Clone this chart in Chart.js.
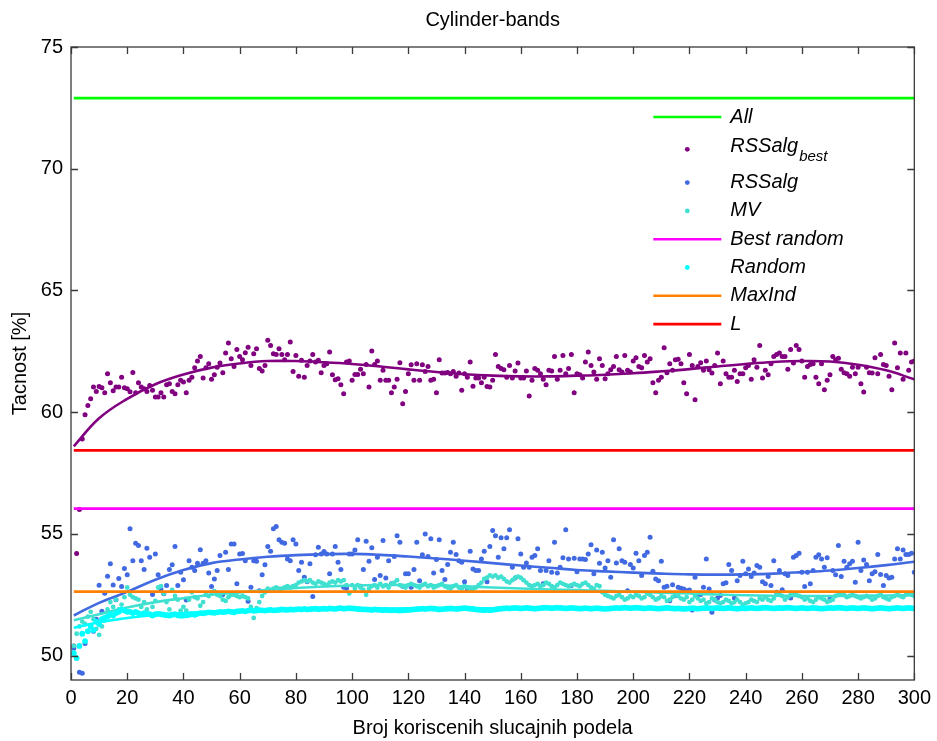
<!DOCTYPE html>
<html>
<head>
<meta charset="utf-8">
<title>Cylinder-bands</title>
<script src="https://cdn.jsdelivr.net/npm/chart.js@4.4.1/dist/chart.umd.min.js"></script>
<style>
  html, body { margin: 0; padding: 0; background: #fff; }
</style>
</head>
<body>
<canvas id="accuracyChart" width="937" height="741"></canvas>
<script>
// Tacnost po broju koriscenih slucajnih podela (1..300)
const rssBest = [
  50.4, 54.2, 56.0, 58.9, 59.9, 60.28, 60.55, 61.03, 60.85, 61.06,
  61.0, 60.8, 61.58, 61.21, 60.88, 61.03, 61.03, 61.44, 61.0, 60.96,
  60.84, 61.63, 60.8, 61.21, 61.03, 60.96, 60.85, 61.1, 60.9, 60.62,
  60.62, 60.8, 60.62, 61.13, 61.17, 60.85, 60.76, 61.13, 61.31, 61.24,
  60.8, 61.31, 61.44, 61.83, 62.1, 62.29, 61.4, 61.83, 61.99, 61.35,
  61.54, 61.85, 62.02, 61.62, 62.43, 62.84, 62.2, 61.88, 62.57, 62.29,
  62.15, 62.44, 62.67, 61.92, 62.4, 62.61, 61.79, 61.69, 61.92, 62.95,
  62.74, 62.4, 62.37, 62.61, 62.37, 62.15, 62.37, 62.88, 61.67, 62.33,
  61.48, 62.13, 61.44, 61.92, 62.1, 62.37, 62.06, 62.13, 61.62, 61.92,
  61.99, 62.47, 61.54, 61.33, 61.37, 61.13, 60.76, 62.06, 62.1, 61.31,
  61.55, 61.55, 61.76, 61.58, 61.96, 61.03, 62.51, 61.96, 62.1, 61.31,
  61.72, 61.31, 61.31, 60.8, 61.03, 61.35, 62.03, 60.35, 60.85, 61.58,
  61.95, 61.31, 61.99, 61.31, 61.95, 61.67, 61.88, 61.31, 61.35, 60.8,
  62.15, 61.61, 61.61, 61.63, 61.58, 61.67, 61.48, 61.61, 60.9, 61.58,
  61.44, 62.06, 61.07, 61.4, 61.4, 61.21, 61.44, 61.06, 61.03, 61.31,
  62.37, 61.88, 61.79, 61.74, 61.44, 61.92, 61.4, 61.69, 62.02, 61.4,
  61.4, 61.69, 60.66, 61.31, 61.79, 61.72, 61.58, 61.35, 61.13, 61.72,
  61.69, 62.29, 61.35, 61.72, 62.33, 61.58, 61.79, 62.37, 60.8, 61.58,
  61.54, 61.4, 62.06, 62.47, 61.92, 61.65, 61.35, 62.2, 61.92, 61.37,
  61.58, 61.74, 61.88, 62.29, 61.74, 61.65, 62.33, 61.72, 61.65, 62.1,
  62.24, 61.88, 61.83, 62.33, 62.06, 62.2, 61.21, 60.8, 61.31, 61.44,
  62.65, 61.62, 61.99, 61.72, 62.15, 62.17, 61.99, 61.21, 60.76, 62.37,
  61.92, 60.51, 61.88, 62.03, 61.72, 62.1, 61.74, 61.61, 61.92, 62.43,
  61.17, 62.1, 61.58, 61.44, 61.44, 61.72, 61.26, 61.58, 61.58, 61.83,
  61.92, 61.35, 62.15, 61.85, 62.74, 61.4, 61.72, 61.54, 61.99, 62.29,
  62.37, 62.43, 62.29, 62.29, 61.76, 62.57, 62.02, 62.74, 62.57, 62.1,
  61.44, 61.88, 61.96, 61.99, 61.44, 61.17, 61.99, 60.92, 61.31, 61.54,
  62.29, 62.15, 62.22, 61.76, 61.62, 61.58, 61.48, 61.85, 61.58, 61.85,
  61.17, 60.83, 61.85, 61.62, 61.61, 62.24, 61.58, 62.37, 61.96, 61.92,
  61.48, 60.92, 62.84, 61.83, 62.43, 61.35, 62.43, 61.72, 62.06, 62.1
];
const rssAlg = [
  50.3, 49.9, 49.32, 49.28, 50.5, 51.0, 51.25, 51.0, 51.5, 52.89,
  51.82, 52.56, 53.26, 53.77, 52.9, 52.3, 53.17, 52.84, 53.58, 53.32,
  55.21, 53.9, 54.62, 54.52, 53.9, 53.54, 54.41, 54.04, 52.51, 54.18,
  53.32, 52.74, 52.54, 52.88, 53.54, 53.73, 54.48, 52.88, 53.43, 53.12,
  52.29, 53.9, 53.63, 53.5, 53.8, 54.35, 53.8, 53.9, 53.4, 52.84,
  53.15, 53.5, 54.11, 52.51, 54.25, 53.54, 54.59, 54.59, 52.95, 54.18,
  54.2, 53.9, 52.23, 52.81, 53.9, 53.88, 52.67, 53.32, 53.73, 54.48,
  54.29, 55.21, 55.3, 54.76, 54.66, 54.62, 53.97, 53.9, 54.76, 54.59,
  53.5, 53.84, 53.22, 53.04, 53.77, 52.43, 54.14, 54.45, 54.18, 54.28,
  54.18, 53.36, 54.18, 54.48, 53.84, 53.54, 52.81, 52.77, 54.18, 54.18,
  54.34, 54.76, 52.85, 53.54, 54.7, 53.88, 54.43, 53.13, 54.04, 53.29,
  54.73, 53.19, 53.9, 52.95, 54.07, 54.93, 54.66, 52.85, 53.36, 53.36,
  52.81, 53.54, 54.66, 53.08, 54.14, 55.0, 54.07, 54.8, 53.4, 53.95,
  54.76, 53.5, 53.13, 53.74, 54.25, 54.66, 54.15, 53.9, 53.84, 53.04,
  52.74, 54.29, 53.56, 53.5, 53.5, 53.97, 54.29, 53.04, 54.48, 55.14,
  54.93, 54.04, 54.84, 54.39, 54.84, 55.17, 53.63, 53.19, 54.8, 54.18,
  53.63, 53.81, 53.63, 54.04, 54.11, 54.39, 53.5, 52.95, 53.5, 53.9,
  53.43, 54.66, 53.4, 53.63, 54.02, 55.17, 53.97, 52.88, 54.0, 53.45,
  53.97, 53.97, 53.95, 54.18, 54.56, 53.36, 54.34, 53.8, 54.25, 53.6,
  53.9, 53.22, 54.76, 53.81, 54.39, 53.9, 53.84, 52.67, 53.74, 53.6,
  54.21, 53.9, 53.29, 54.11, 54.25, 54.86, 53.47, 53.15, 53.08, 53.88,
  52.81, 52.85, 52.26, 52.91, 52.47, 52.81, 52.77, 52.74, 52.67, 52.7,
  51.88, 53.22, 52.47, 52.51, 52.81, 53.97, 52.74, 51.78, 52.29, 52.37,
  52.47, 52.95, 52.99, 53.74, 53.5, 52.37, 53.08, 53.29, 53.88, 53.36,
  53.56, 53.25, 53.4, 53.7, 53.63, 53.04, 52.95, 53.25, 52.88, 53.9,
  52.6, 53.5, 52.71, 53.36, 53.29, 52.37, 54.04, 54.11, 54.21, 53.43,
  52.84, 53.43, 52.95, 53.5, 54.04, 54.14, 53.97, 53.63, 54.02, 52.33,
  53.5, 53.32, 54.52, 53.25, 53.88, 53.63, 53.77, 53.88, 53.02, 54.66,
  53.5, 53.93, 53.74, 53.08, 53.36, 53.45, 54.15, 53.33, 52.88, 53.29,
  53.19, 53.22, 53.97, 54.39, 53.97, 54.34, 54.15, 54.15, 54.21, 53.43
];
const majorityVote = [
  50.4, 50.9, 51.2, 51.4, 51.3, 51.6, 51.8, 51.5, 51.1, 50.85,
  51.2, 51.45, 51.9, 52.2, 52.0, 52.3, 51.9, 52.1, 52.4, 52.8,
  52.5, 52.4, 52.35, 52.3, 52.0, 52.2, 51.9, 51.7, 52.0, 52.25,
  52.8, 52.85, 52.55, 52.2, 51.9, 52.7, 52.45, 52.3, 51.85, 52.0,
  51.85, 52.3, 52.6, 52.4, 52.35, 52.05, 52.2, 52.5, 52.45, 52.6,
  52.65, 52.5, 52.45, 52.3, 52.25, 52.4, 52.5, 52.5, 52.45, 52.4,
  52.45, 52.4, 52.35, 52.0, 51.55, 51.95, 52.2, 52.45, 52.6, 52.75,
  52.7, 52.75, 52.8, 52.75, 52.75, 52.8, 52.85, 52.8, 52.85, 52.9,
  53.0, 53.05, 53.1, 53.05, 53.1, 53.0, 52.95, 53.05, 53.0, 52.95,
  52.9, 53.0, 53.05, 53.0, 53.1, 53.05, 53.1, 52.9, 52.55, 52.9,
  52.75, 52.9, 52.8, 52.7, 52.5, 52.75, 52.85, 52.9, 52.8, 52.95,
  52.85, 52.9, 52.8, 52.95, 53.0, 53.1, 52.9, 52.85, 52.8, 52.9,
  52.95, 52.9, 52.85, 52.8, 52.9, 52.95, 52.85, 52.9, 52.8, 52.85,
  52.9, 52.95, 52.85, 52.8, 52.75, 52.85, 52.9, 52.8, 52.75, 52.85,
  52.8, 52.7, 52.75, 52.8, 52.9, 53.0, 53.15, 53.2, 53.3, 53.25,
  53.3, 53.2, 53.25, 53.15, 53.05, 53.0, 53.1, 53.2, 53.25, 53.2,
  53.1, 53.0, 52.9, 52.85, 52.9, 52.95, 52.85, 52.9, 53.0, 52.95,
  52.85, 52.8, 52.9, 53.0, 52.95, 52.9, 52.85, 52.9, 52.95, 52.9,
  52.85, 52.95, 53.0, 52.9, 52.8, 52.75, 52.9, 52.85, 52.6, 52.5,
  52.45, 52.4, 52.35, 52.45, 52.5, 52.4, 52.3, 52.35, 52.45, 52.4,
  52.5, 52.45, 52.35, 52.4, 52.55, 52.5, 52.4, 52.3, 52.35, 52.45,
  52.4, 52.25, 52.3, 52.4, 52.5, 52.45, 52.35, 52.3, 52.4, 52.2,
  52.3, 52.45, 52.35, 52.25, 52.3, 52.15, 52.2, 52.35, 52.3, 52.2,
  52.15, 52.2, 52.3, 52.25, 52.15, 52.2, 52.3, 52.2, 52.1, 52.15,
  52.2, 52.3, 52.25, 52.2, 52.35, 52.3, 52.4, 52.3, 52.25, 52.35,
  52.5, 52.55, 52.45, 52.3, 52.4, 52.5, 52.55, 52.5, 52.45, 52.4,
  52.3, 52.35, 52.25, 52.2, 52.3, 52.4, 52.35, 52.3, 52.2, 52.25,
  52.3, 52.45, 52.5, 52.55, 52.5, 52.4, 52.45, 52.5, 52.45, 52.4,
  52.35, 52.4, 52.45, 52.4, 52.3, 52.35, 52.45, 52.5, 52.4, 52.35,
  52.3, 52.4, 52.45, 52.5, 52.45, 52.4, 52.5, 52.55, 52.5, 52.45
];
const randomEns = [
  50.1, 49.9, 50.4, 50.9, 50.6, 51.0, 51.2, 51.05, 51.4, 51.3,
  51.5, 51.55, 51.6, 51.7, 51.65, 51.75, 51.8, 51.9, 51.85, 51.8,
  51.8, 51.75, 51.8, 51.75, 51.7, 51.75, 51.72, 51.7, 51.65, 51.7,
  51.72, 51.7, 51.68, 51.66, 51.65, 51.68, 51.7, 51.66, 51.64, 51.65,
  51.66, 51.68, 51.7, 51.68, 51.72, 51.75, 51.74, 51.76, 51.78, 51.77,
  51.76, 51.78, 51.8, 51.79, 51.8, 51.82, 51.8, 51.78, 51.82, 51.83,
  51.84, 51.82, 51.85, 51.86, 51.84, 51.85, 51.87, 51.86, 51.85, 51.87,
  51.88, 51.86, 51.87, 51.88, 51.9, 51.89, 51.88, 51.9, 51.89, 51.9,
  51.91, 51.9, 51.92, 51.9, 51.91, 51.92, 51.93, 51.91, 51.92, 51.93,
  51.92, 51.94, 51.93, 51.92, 51.94, 51.95, 51.93, 51.94, 51.95, 51.94,
  51.93, 51.92, 51.91, 51.9, 51.9, 51.89, 51.88, 51.9, 51.89, 51.88,
  51.87, 51.88, 51.87, 51.86, 51.87, 51.86, 51.85, 51.86, 51.87, 51.88,
  51.89, 51.9, 51.91, 51.92, 51.93, 51.92, 51.93, 51.94, 51.93, 51.92,
  51.9, 51.91, 51.92, 51.93, 51.94, 51.93, 51.92, 51.93, 51.94, 51.95,
  51.94, 51.93, 51.92, 51.9, 51.89, 51.88, 51.87, 51.88, 51.87, 51.88,
  51.9, 51.92, 51.93, 51.94, 51.95, 51.94, 51.95, 51.96, 51.95, 51.94,
  51.95, 51.96, 51.95, 51.94, 51.93, 51.94, 51.95, 51.96, 51.97, 51.96,
  51.95, 51.96, 51.97, 51.96, 51.95, 51.94, 51.95, 51.96, 51.95, 51.94,
  51.93, 51.94, 51.95, 51.94, 51.93, 51.94, 51.95, 51.94, 51.93, 51.92,
  51.93, 51.94, 51.95, 51.96, 51.95, 51.96, 51.97, 51.96, 51.95, 51.96,
  51.97, 51.96, 51.95, 51.94, 51.95, 51.96, 51.95, 51.94, 51.93, 51.94,
  51.95, 51.96, 51.95, 51.94, 51.93, 51.94, 51.93, 51.92, 51.93, 51.94,
  51.95, 51.94, 51.93, 51.94, 51.95, 51.96, 51.95, 51.94, 51.95, 51.96,
  51.95, 51.94, 51.95, 51.96, 51.95, 51.94, 51.93, 51.94, 51.95, 51.94,
  51.95, 51.96, 51.95, 51.94, 51.95, 51.96, 51.97, 51.96, 51.95, 51.94,
  51.95, 51.96, 51.95, 51.96, 51.97, 51.96, 51.95, 51.94, 51.95, 51.96,
  51.95, 51.94, 51.95, 51.96, 51.95, 51.94, 51.93, 51.94, 51.95, 51.96,
  51.95, 51.96, 51.97, 51.96, 51.95, 51.94, 51.95, 51.96, 51.95, 51.94,
  51.95, 51.96, 51.95, 51.94, 51.93, 51.94, 51.95, 51.96, 51.95, 51.94,
  51.93, 51.94, 51.95, 51.96, 51.95, 51.94, 51.95, 51.96, 51.95, 51.94
];

// trend curves, sampled every 10 splits
const fitX = [1, 10, 20, 30, 40, 50, 60, 70, 80, 90, 100, 110, 120, 130, 140, 150,
  160, 170, 180, 190, 200, 210, 220, 230, 240, 250, 260, 270, 280, 290, 300];
const rssBestFit = [58.6, 59.75, 60.55, 61.15, 61.55, 61.83, 62.0, 62.1, 62.1, 62.05,
  61.98, 61.88, 61.76, 61.65, 61.56, 61.5, 61.47, 61.47, 61.5, 61.54, 61.6, 61.68,
  61.77, 61.88, 61.98, 62.06, 62.1, 62.08, 61.95, 61.72, 61.35];
const rssAlgFit = [51.65, 52.17, 52.62, 53.12, 53.52, 53.8, 53.95, 54.06, 54.13, 54.17,
  54.18, 54.14, 54.07, 53.99, 53.9, 53.8, 53.7, 53.61, 53.52, 53.46, 53.41, 53.37,
  53.34, 53.33, 53.34, 53.37, 53.43, 53.5, 53.6, 53.72, 53.86];
const majorityVoteFit = [51.45, 51.7, 51.98, 52.2, 52.36, 52.5, 52.6, 52.7, 52.78, 52.84,
  52.88, 52.9, 52.9, 52.89, 52.85, 52.8, 52.76, 52.72, 52.69, 52.66, 52.63, 52.59,
  52.55, 52.51, 52.48, 52.46, 52.45, 52.45, 52.46, 52.47, 52.48];
const randomEnsFit = [51.15, 51.37, 51.55, 51.67, 51.75, 51.81, 51.85, 51.88, 51.9, 51.92,
  51.93, 51.93, 51.94, 51.94, 51.94, 51.94, 51.94, 51.95, 51.95, 51.95, 51.95, 51.95,
  51.95, 51.95, 51.95, 51.95, 51.95, 51.96, 51.96, 51.96, 51.96];

// constant reference levels
const allAcc = 72.9;
const bestRandomAcc = 56.04;
const maxIndAcc = 52.63;
const baseAcc = 58.43;

const xTicks = [0, 20, 40, 60, 80, 100, 120, 140, 160, 180, 200, 220, 240, 260, 280, 300];
const yTicks = [50, 55, 60, 65, 70, 75];
const legendOrder = ['All', 'RSSalg_best', 'RSSalg', 'MV', 'Best random', 'Random', 'MaxInd', 'L'];

const FONT = '"Liberation Sans", Arial, Helvetica, sans-serif';
const AXIS = '#3a3a3a';

const toPoints = (ys) => ys.map((y, i) => ({x: i + 1, y}));
const toCurve = (ys) => ys.map((y, i) => ({x: fitX[i], y}));
const level = (y) => [{x: 1, y}, {x: 300, y}];

const dots = (label, data, color, extra = {}) => ({
  label, data: toPoints(data), showLine: false,
  pointRadius: 2.5, pointHoverRadius: 2.5, pointBorderWidth: 0,
  backgroundColor: color, borderColor: color, legendKind: 'dot', ...extra,
});
const line = (label, data, color, extra = {}) => ({
  label, data, showLine: true, pointRadius: 0, borderWidth: 2.6,
  borderColor: color, backgroundColor: color, tension: 0, fill: false,
  legendKind: 'line', ...extra,
});

// listed bottom layer first
const datasets = [
  line('All', level(allAcc), '#00ff00'),
  dots('RSSalg_best', rssBest, '#800080', {legendSub: 'best', legendLabel: 'RSSalg'}),
  line('fit-best', toCurve(rssBestFit), '#800080', {tension: 0.4, legendKind: null}),
  dots('RSSalg', rssAlg, '#4169e1'),
  line('fit-rss', toCurve(rssAlgFit), '#4169e1', {tension: 0.4, legendKind: null}),
  dots('MV', majorityVote, '#40e0d0', {pointRadius: 2.4}),
  line('fit-mv', toCurve(majorityVoteFit), '#40e0d0', {tension: 0.4, legendKind: null}),
  line('Best random', level(bestRandomAcc), '#ff00ff'),
  dots('Random', randomEns, '#00ffff', {pointRadius: 2.9}),
  line('fit-random', toCurve(randomEnsFit), '#00ffff', {tension: 0.4, legendKind: null}),
  line('MaxInd', level(maxIndAcc), '#ff8000'),
  line('L', level(baseAcc), '#ff0000'),
];
datasets.forEach((d, i) => { d.order = datasets.length - i; });

// box, inward ticks, title and legend
const matlabFrame = {
  id: 'matlabFrame',
  afterDraw(chart) {
    const {ctx, chartArea: a, scales: {x, y}} = chart;
    const tick = 7;
    ctx.save();
    ctx.strokeStyle = AXIS;
    ctx.lineWidth = 1.3;
    ctx.strokeRect(a.left, a.top, a.right - a.left, a.bottom - a.top);
    ctx.beginPath();
    xTicks.forEach(v => {
      const px = Math.round(x.getPixelForValue(v)) + 0.5;
      ctx.moveTo(px, a.bottom); ctx.lineTo(px, a.bottom - tick);
      ctx.moveTo(px, a.top); ctx.lineTo(px, a.top + tick);
    });
    yTicks.forEach(v => {
      const py = Math.round(y.getPixelForValue(v)) + 0.5;
      ctx.moveTo(a.left, py); ctx.lineTo(a.left + tick, py);
      ctx.moveTo(a.right, py); ctx.lineTo(a.right - tick, py);
    });
    ctx.stroke();

    ctx.fillStyle = '#000';
    ctx.font = '20px ' + FONT;
    ctx.textAlign = 'center';
    ctx.textBaseline = 'middle';
    ctx.fillText('Cylinder-bands', (a.left + a.right) / 2, 20);

    const sets = chart.data.datasets;
    const lx0 = a.right - 261, lx1 = a.right - 193, tx = a.right - 184;
    legendOrder.forEach((name, i) => {
      const d = sets.find(s => s.label === name);
      const cy = a.top + 70 + i * 28.3 + (i >= 1 ? 4 : 0) + (i >= 2 ? 5 : 0);
      if (d.legendKind === 'line') {
        ctx.strokeStyle = d.borderColor;
        ctx.lineWidth = 2.6;
        ctx.beginPath(); ctx.moveTo(lx0, cy); ctx.lineTo(lx1, cy); ctx.stroke();
      } else {
        ctx.fillStyle = d.backgroundColor;
        ctx.beginPath(); ctx.arc((lx0 + lx1) / 2, cy, 2.4, 0, Math.PI * 2); ctx.fill();
      }
      ctx.fillStyle = '#000';
      ctx.textAlign = 'left';
      ctx.font = 'italic 20px ' + FONT;
      if (d.legendSub) {
        const main = d.legendLabel;
        ctx.fillText(main, tx, cy - 3);
        const w = ctx.measureText(main).width;
        ctx.font = 'italic 15px ' + FONT;
        ctx.fillText(d.legendSub, tx + w + 1, cy + 8);
      } else {
        ctx.fillText(name, tx, cy);
      }
    });
    ctx.restore();
  }
};

new Chart(document.getElementById('accuracyChart'), {
  type: 'scatter',
  data: {datasets},
  options: {
    responsive: false,
    animation: false,
    devicePixelRatio: 1,
    layout: {padding: {top: 47, right: 21, left: 0, bottom: 0}},
    plugins: {legend: {display: false}, tooltip: {enabled: false}, title: {display: false}},
    scales: {
      x: {
        type: 'linear', min: 0, max: 300,
        afterBuildTicks: s => { s.ticks = xTicks.map(value => ({value})); },
        afterFit: s => { s.height = 61; },
        grid: {display: false, drawTicks: false},
        border: {display: false},
        ticks: {color: '#000', padding: 6, font: {family: FONT, size: 20}, maxRotation: 0, autoSkip: false},
        title: {display: true, text: 'Broj koriscenih slucajnih podela', color: '#000',
          font: {family: FONT, size: 20}, padding: {top: 0, bottom: 1}}
      },
      y: {
        type: 'linear', min: 49, max: 75,
        afterBuildTicks: s => { s.ticks = yTicks.map(value => ({value})); },
        afterFit: s => { s.width = 71; },
        grid: {display: false, drawTicks: false},
        border: {display: false},
        ticks: {color: '#000', padding: 8, font: {family: FONT, size: 20}},
        title: {display: true, text: 'Tacnost [%]', color: '#000',
          font: {family: FONT, size: 20}, padding: {top: 8, bottom: 0}}
      }
    }
  },
  plugins: [matlabFrame]
});
</script>
</body>
</html>
